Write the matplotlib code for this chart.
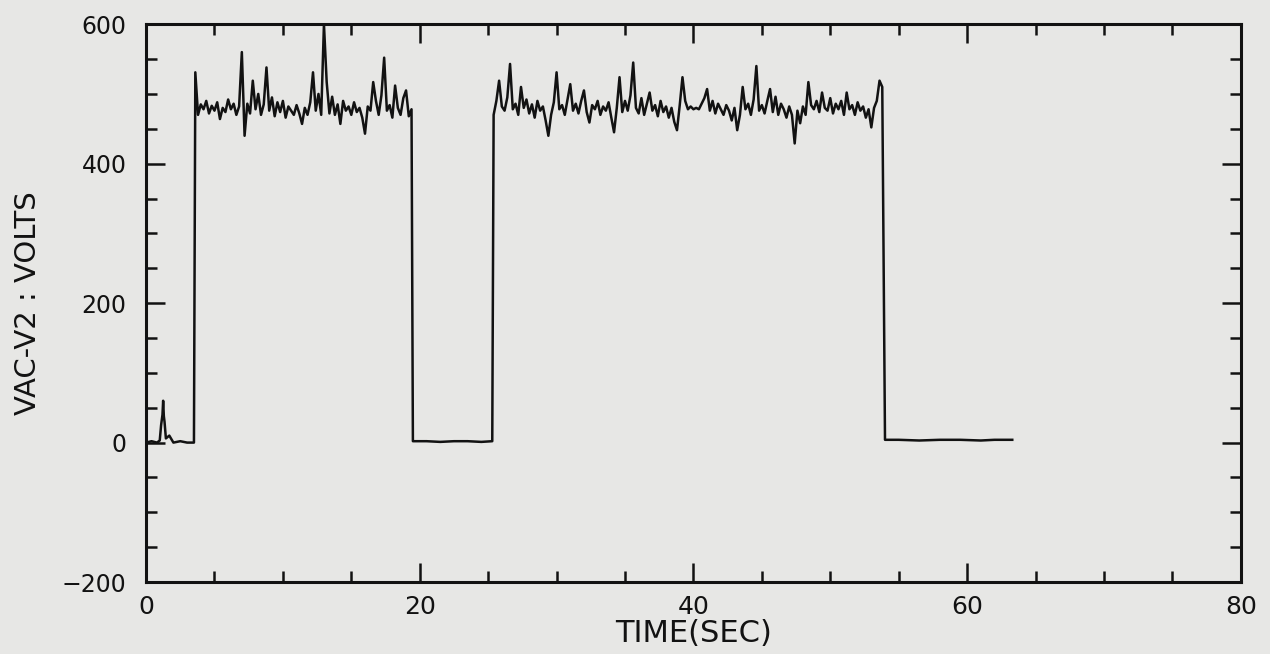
import numpy as np
import matplotlib
matplotlib.use('Agg')
import matplotlib.pyplot as plt
from matplotlib.ticker import MultipleLocator

# before the first pulse: small blip near 1.25 s
pre_t = [0.0, 0.4, 0.8, 1.0, 1.1, 1.2, 1.25, 1.3, 1.35, 1.45, 1.7, 2.0, 2.5, 3.0, 3.5]
pre_v = [0, 2, 0, 3, 25, 40, 60, 38, 30, 6, 10, 0, 2, 0, 0]

# first pulse, sampled every 0.2 s from 3.6 s
pulse1_start = 3.6
pulse1_v = [531, 470, 485, 478, 490, 472, 483, 476, 488, 464,
            480, 474, 492, 478, 486, 470, 482, 560, 440, 486,
            472, 519, 478, 500, 470, 485, 538, 476, 495, 468,
            488, 474, 490, 466, 482, 476, 470, 484, 472, 457,
            480, 470, 488, 531, 476, 500, 470, 600, 517, 472,
            496, 470, 485, 457, 490, 476, 482, 470, 488, 474,
            480, 466, 443, 482, 476, 517, 490, 470, 498, 552,
            476, 484, 466, 512, 480, 470, 494, 505, 468, 478]

gap_t = [19.5, 20.5, 21.5, 22.5, 23.5, 24.5, 25.3]
gap_v = [2, 2, 1, 2, 2, 1, 2]

# second pulse, sampled every 0.2 s from 25.4 s
pulse2_start = 25.4
pulse2_v = [470, 490, 519, 482, 476, 495, 543, 478, 486, 470,
            510, 480, 492, 472, 485, 466, 490, 476, 482, 462,
            440, 470, 488, 531, 478, 484, 470, 492, 514, 476,
            486, 472, 490, 505, 474, 459, 484, 478, 490, 470,
            482, 476, 488, 466, 445, 480, 524, 474, 490, 476,
            498, 545, 480, 472, 494, 470, 486, 502, 476, 484,
            468, 490, 474, 482, 466, 480, 460, 448, 484, 524,
            490, 478, 482, 478, 480, 478, 486, 494, 507, 476,
            490, 472, 486, 478, 470, 484, 476, 462, 480, 448,
            470, 510, 478, 486, 470, 492, 540, 476, 484, 472,
            490, 507, 474, 496, 470, 486, 478, 466, 482, 470,
            429, 476, 458, 482, 470, 517, 484, 478, 490, 474,
            502, 480, 476, 494, 472, 486, 478, 490, 470, 502,
            478, 484, 470, 488, 476, 482, 466, 478, 452, 480,
            490, 519, 510]

tail_t = [54.0, 55.0, 56.5, 58.0, 59.5, 61.0, 62.0, 63.3]
tail_v = [4, 4, 3, 4, 4, 3, 4, 4]

t1 = pulse1_start + 0.2 * np.arange(len(pulse1_v))
t2 = pulse2_start + 0.2 * np.arange(len(pulse2_v))
t = np.concatenate([pre_t, t1, gap_t, t2, tail_t])
v = np.concatenate([pre_v, pulse1_v, gap_v, pulse2_v, tail_v])

bg = '#e7e7e5'
ink = '#121212'

fig = plt.figure(figsize=(12.7, 6.54), dpi=100, facecolor=bg)
ax = fig.add_axes([0.115, 0.110, 0.862, 0.853], facecolor=bg)
ax.plot(t, v, color=ink, lw=1.8)

ax.set_xlim(0, 80)
ax.set_ylim(-200, 600)
ax.xaxis.set_major_locator(MultipleLocator(20))
ax.xaxis.set_minor_locator(MultipleLocator(5))
ax.yaxis.set_major_locator(MultipleLocator(200))
ax.yaxis.set_minor_locator(MultipleLocator(50))
ax.tick_params(which='both', direction='in', top=True, right=True,
               color=ink, width=1.8)
ax.tick_params(which='major', length=14)
ax.tick_params(which='minor', length=8)
ax.tick_params(axis='x', labelsize=18, pad=9, labelcolor=ink)
ax.tick_params(axis='y', labelsize=17, pad=14, labelcolor=ink)
for s in ax.spines.values():
    s.set_linewidth(2.2)
    s.set_color(ink)

ax.set_xlabel('TIME(SEC)', fontsize=22, color=ink, labelpad=0)
ax.set_ylabel('VAC-V2 : VOLTS', fontsize=21, color=ink, labelpad=14)

fig.savefig('out.png', dpi=100, facecolor=bg)
